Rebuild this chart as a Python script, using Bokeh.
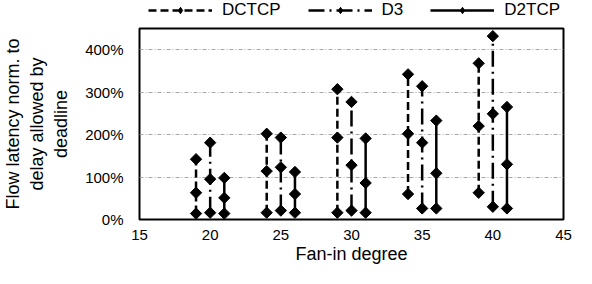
import numpy as np
from bokeh.plotting import figure
from bokeh.layouts import column
from bokeh.models import (ColumnDataSource, Legend, LegendItem, Range1d,
                          FixedTicker, PrintfTickFormatter)
from bokeh.embed import file_html
from bokeh.resources import INLINE

# ---- data ----
fan_in = [20, 25, 30, 35, 40]
series = ["DCTCP", "D3", "D2TCP"]
dctcp_high = [142, 202, 307, 342, 368]
dctcp_mid = [63, 114, 193, 202, 220]
dctcp_low = [14, 16, 16, 60, 63]
d3_high = [181, 193, 277, 314, 432]
d3_mid = [95, 123, 128, 181, 249]
d3_low = [16, 21, 21, 26, 30]
d2tcp_high = [98, 112, 191, 233, 265]
d2tcp_mid = [51, 60, 86, 109, 130]
d2tcp_low = [14, 16, 16, 26, 26]
x_ticks = [15, 20, 25, 30, 35, 40, 45]
y_ticks = [0, 100, 200, 300, 400]

FONT = "Liberation Sans"

styles = {
    "DCTCP": dict(off=-1, dash="8 4", high=dctcp_high, mid=dctcp_mid, low=dctcp_low),
    "D3": dict(off=0, dash="16 5 2 5", high=d3_high, mid=d3_mid, low=d3_low),
    "D2TCP": dict(off=1, dash="solid", high=d2tcp_high, mid=d2tcp_mid, low=d2tcp_low),
}

# ---------------- main chart ----------------
p = figure(width=576, height=242, output_backend="svg", toolbar_location=None,
           x_range=Range1d(15, 45), y_range=Range1d(0, 450),
           min_border_left=130, min_border_right=13,
           min_border_top=2, min_border_bottom=49)
p.background_fill_color = "white"
p.border_fill_color = "white"
p.outline_line_color = "black"
p.outline_line_width = 2

p.xgrid.grid_line_color = None
p.ygrid.grid_line_color = "#a6a6a6"
p.ygrid.grid_line_width = 1
p.ygrid.grid_line_dash = "4 2 1 2"

p.xaxis.ticker = FixedTicker(ticks=x_ticks)
p.yaxis.ticker = FixedTicker(ticks=y_ticks)
p.yaxis.formatter = PrintfTickFormatter(format="%d%%")
for ax in (p.xaxis[0], p.yaxis[0]):
    ax.axis_line_color = None
    ax.major_tick_line_color = None
    ax.minor_tick_line_color = None
    ax.major_tick_out = 0
    ax.major_tick_in = 0
    ax.minor_tick_out = 0
    ax.minor_tick_in = 0
    ax.major_label_text_font = FONT
    ax.major_label_text_font_size = "15px"
    ax.major_label_text_color = "black"
    ax.axis_label_text_font = FONT
    ax.axis_label_text_font_size = "18px"
    ax.axis_label_text_font_style = "normal"
    ax.axis_label_text_color = "black"
p.xaxis.major_label_standoff = 10
p.yaxis.major_label_standoff = 16
p.xaxis.axis_label = "Fan-in degree"
p.xaxis.axis_label_standoff = 1
p.yaxis.axis_label = "Flow latency norm. to\ndelay allowed by\ndeadline"
p.yaxis.axis_label_standoff = 11
p.yaxis.axis_label_text_line_height = 1.2

for name in series:
    st = styles[name]
    xs = np.array(fan_in, dtype=float) + st["off"]
    seg_src = ColumnDataSource(dict(x=xs, lo=st["low"], hi=st["high"]))
    p.segment(x0="x", y0="lo", x1="x", y1="hi", source=seg_src,
              line_color="black", line_width=2.5, line_dash=st["dash"])
    pts_x = np.concatenate([xs, xs, xs])
    pts_y = np.concatenate([st["low"], st["mid"], st["high"]]).astype(float)
    pt_src = ColumnDataSource(dict(x=pts_x, y=pts_y))
    p.scatter(x="x", y="y", source=pt_src, marker="square", size=8,
              angle=np.pi / 4, fill_color="black", line_color="black")

# ---------------- legend strip ----------------
lg = figure(width=576, height=26, output_backend="svg", toolbar_location=None,
            x_range=Range1d(0, 1), y_range=Range1d(0, 1),
            x_axis_location=None, y_axis_location=None,
            min_border=0, min_border_left=0, min_border_right=0,
            min_border_top=0, min_border_bottom=0)
lg.outline_line_color = None
lg.grid.grid_line_color = None
lg.background_fill_color = "white"
lg.border_fill_color = "white"

items = []
for name in series:
    st = styles[name]
    src = ColumnDataSource(dict(x=[np.nan], y=[np.nan]))
    seg = lg.segment(x0="x", y0="y", x1="x", y1="y", source=src,
                     line_color="black", line_width=2.5, line_dash=st["dash"])
    mk = lg.scatter(x="x", y="y", source=src, marker="diamond", size=11,
                    fill_color="black", line_color="black")
    items.append(LegendItem(label=name, renderers=[seg, mk]))

# the column aligns this strip's frame with the chart's frame
legend = Legend(items=items, orientation="horizontal", location=(9, 6),
                glyph_width=64, glyph_height=16, label_standoff=10, spacing=27,
                padding=0, margin=0, border_line_color=None,
                background_fill_alpha=0,
                label_text_font=FONT, label_text_font_size="17px",
                label_text_color="black")
lg.add_layout(legend, "center")

layout = column(lg, p, spacing=0)
open("out.html", "w").write(file_html(layout, INLINE))
